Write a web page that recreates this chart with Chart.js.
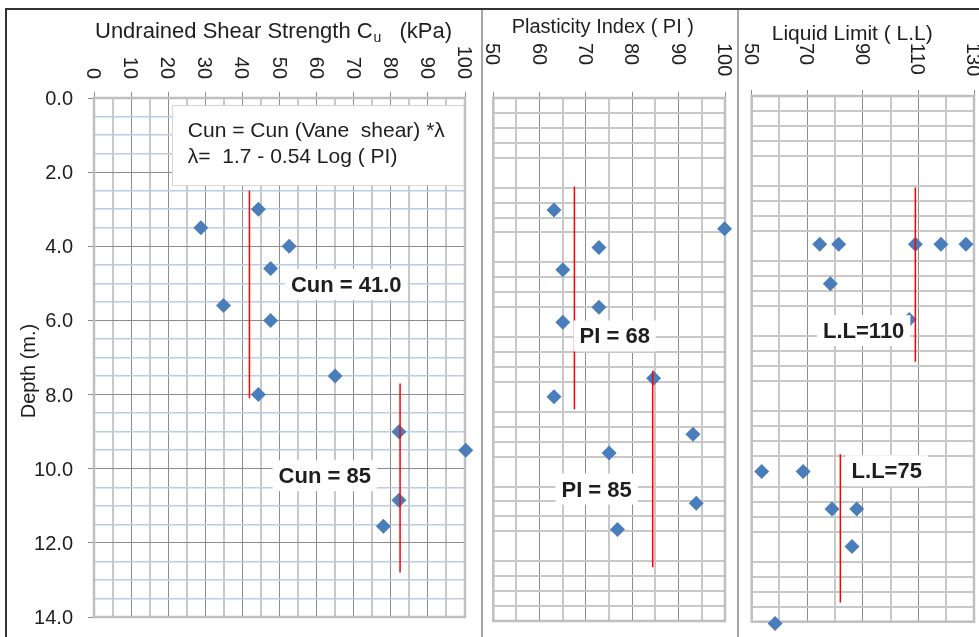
<!DOCTYPE html>
<html>
<head>
<meta charset="utf-8">
<title>Cu, PI and LL profiles</title>
<script src="https://cdn.jsdelivr.net/npm/chart.js@4.4.1/dist/chart.umd.min.js"></script>
<style>
  body { margin: 0; background: #fff; }
  #sheet { position: relative; width: 979px; height: 637px; overflow: hidden; background: #fff; }
  #sheet canvas { position: absolute; top: 0; }
  .rule { position: absolute; }
</style>
</head>
<body>
<div id="sheet">
  <canvas id="cuChart" width="481" height="637" style="left:0"></canvas>
  <canvas id="piChart" width="254" height="637" style="left:483px"></canvas>
  <canvas id="llChart" width="240" height="637" style="left:739px"></canvas>
  <div class="rule" style="left:5px;top:8px;width:974px;border-top:2px solid #333"></div>
  <div class="rule" style="left:5px;top:8px;height:629px;border-left:2px solid #333"></div>
  <div class="rule" style="left:481px;top:10px;height:627px;border-left:2px solid #a6a6a6"></div>
  <div class="rule" style="left:737px;top:10px;height:627px;border-left:2px solid #a6a6a6"></div>
</div>
<script>
/* ---------- data ---------- */
const sampleDepths = [3.0, 3.5, 4.0, 4.6, 5.6, 6.0, 7.5, 8.0, 9.0, 9.5, 10.85, 11.55];
const cuValues = [44.3, 28.8, 52.6, 47.6, 34.9, 47.6, 65.0, 44.3, 82.2, 100.2, 82.2, 78.0];
const piValues = [63.1, 99.9, 72.8, 65.0, 72.8, 65.0, 84.6, 63.1, 93.1, 75.0, 93.8, 76.8];

const llDepths = [3.95, 3.95, 3.95, 3.95, 3.95, 5.0, 5.95, 10.0, 10.0, 11.0, 11.0, 12.0, 14.05];
const llValues = [74.5, 81.3, 108.9, 118.1, 127.1, 78.3, 106.7, 53.6, 68.5, 78.9, 87.8, 86.1, 58.4];

// red design lines: value, from depth, to depth
const cuDesign = [41.9, 82.5];
const cuDesignTop = [2.5, 7.7];
const cuDesignBottom = [8.1, 12.8];
const piDesign = [67.5, 84.4];
const piDesignTop = [2.37, 7.3];
const piDesignBottom = [8.33, 12.56];
const llDesign = [108.9, 81.9];
const llDesignTop = [2.44, 9.54];
const llDesignBottom = [7.08, 13.49];

const cuNotes = ["Cun = 41.0", "Cun = 85"];
const piNotes = ["PI = 68", "PI = 85"];
const llNotes = ["L.L=110", "L.L=75"];

const cuTicks = [0, 10, 20, 30, 40, 50, 60, 70, 80, 90, 100];
const piTicks = [50, 60, 70, 80, 90, 100];
const llTicks = [50, 70, 90, 110, 130];
const depthTicks = [0, 2, 4, 6, 8, 10, 12, 14];

/* ---------- styling ---------- */
const FONT = '"Liberation Sans", Arial, sans-serif';
const INK = "#1e1e1e";
const BLUE = "#4a7ebb";
const RED = "#ff0000";
const DARK = "#8c8c8c";
const LIGHT = "#c8c8c8";
const PALEBLUE = "#b9cde5";
const NONE = "rgba(0,0,0,0)";

Chart.defaults.font.family = FONT;

const steps = (from, to, step) => {
    const out = [];
    for (let i = 0; from + i * step <= to + 1e-9; i++)
        out.push({ value: +(from + i * step).toFixed(2) });
    return out;
};
const isEvery = (v, base, step) => Math.abs((v - base) / step - Math.round((v - base) / step)) < 1e-6;

/* draws frame, labels, titles and rotated tick text */
const decor = {
    id: "decor",
    beforeDatasetsDraw(chart, args, o) {
        const { ctx, chartArea: a } = chart;
        const xs = chart.scales.x, ys = chart.scales.y;
        ctx.save();
        if (o.box) {
            const b = o.box;
            const l = xs.getPixelForValue(b.x0), r = xs.getPixelForValue(b.x1);
            const t = ys.getPixelForValue(b.y0), btm = ys.getPixelForValue(b.y1);
            ctx.fillStyle = "#fff";
            ctx.fillRect(l, t, r - l, btm - t);
            ctx.strokeStyle = "#d4d4d4";
            ctx.lineWidth = 1;
            ctx.strokeRect(l + 0.5, t + 0.5, r - l, btm - t);
            ctx.fillStyle = INK;
            ctx.font = `21px ${FONT}`;
            ctx.textAlign = "left";
            b.lines.forEach((s, i) =>
                ctx.fillText(s, xs.getPixelForValue(b.tx), ys.getPixelForValue(b.ty[i]))
            );
        }
        ctx.strokeStyle = "#bfbfbf";
        ctx.lineWidth = 2.5;
        ctx.strokeRect(a.left, a.top, a.width, a.height);
        ctx.restore();
    },
    afterDatasetsDraw(chart, args, o) {
        const { ctx } = chart;
        const xs = chart.scales.x, ys = chart.scales.y;
        ctx.save();
        ctx.font = `bold 22px ${FONT}`;
        ctx.textAlign = "center";
        (o.notes || []).forEach((n) => {
            const w = ctx.measureText(n.text).width;
            const cx = xs.getPixelForValue(n.x), by = ys.getPixelForValue(n.y);
            ctx.fillStyle = "#fff";
            ctx.fillRect(cx - w / 2 - 6, by - 23, w + 12, 31);
            ctx.fillStyle = INK;
            ctx.fillText(n.text, cx, by);
        });
        ctx.restore();
    },
    afterDraw(chart, args, o) {
        const { ctx } = chart;
        const xs = chart.scales.x, ys = chart.scales.y;
        ctx.save();
        ctx.fillStyle = INK;
        ctx.textBaseline = "alphabetic";

        // panel title
        const t = o.title;
        ctx.textAlign = "left";
        ctx.font = `${t.size}px ${FONT}`;
        ctx.fillText(t.text, t.x, t.y);
        if (t.sub) {
            let cx = t.x + ctx.measureText(t.text).width + 1;
            ctx.font = `${Math.round(t.size * 0.62)}px ${FONT}`;
            ctx.fillText(t.sub, cx, t.y + 4);
            cx += ctx.measureText(t.sub).width + t.gap;
            ctx.font = `${t.size}px ${FONT}`;
            ctx.fillText(t.after, cx, t.y);
        }

        // x tick labels, turned 90deg clockwise
        ctx.font = `20px ${FONT}`;
        ctx.textAlign = o.xLabels.align;
        o.xLabels.values.forEach((v) => {
            ctx.save();
            ctx.translate(xs.getPixelForValue(v) - 7, o.xLabels.y);
            ctx.rotate(Math.PI / 2);
            ctx.fillText(String(v), 0, 0);
            ctx.restore();
        });

        // depth labels
        if (o.yLabels) {
            ctx.textAlign = "right";
            o.yLabels.values.forEach((v) =>
                ctx.fillText(v.toFixed(1), o.yLabels.x, ys.getPixelForValue(v) + 7)
            );
        }
        if (o.yTitle) {
            ctx.save();
            ctx.translate(o.yTitle.x, o.yTitle.y);
            ctx.rotate(-Math.PI / 2);
            ctx.textAlign = "center";
            ctx.textBaseline = "middle";
            ctx.fillText(o.yTitle.text, 0, 0);
            ctx.restore();
        }
        ctx.restore();
    },
};

function designLines(values, tops, bottoms) {
    return values.map((v, i) => ({
        data: [{ x: v, y: tops[i] }, { x: v, y: bottoms[i] }],
        showLine: true,
        borderColor: RED,
        borderWidth: 1.5,
        pointRadius: 0,
        clip: false,
    }));
}

function profile(id, cfg) {
    return new Chart(document.getElementById(id), {
        type: "scatter",
        data: {
            datasets: [
                ...cfg.lines,
                {
                    data: cfg.points,
                    pointStyle: "rectRot",
                    pointRadius: 7.5,
                    pointHoverRadius: 7.5,
                    backgroundColor: BLUE,
                    borderWidth: 0,
                    clip: false,
                },
            ],
        },
        options: {
            responsive: false,
            animation: false,
            events: [],
            layout: { padding: cfg.padding, autoPadding: false },
            plugins: {
                legend: { display: false },
                tooltip: { enabled: false },
                decor: cfg.decor,
            },
            scales: {
                x: {
                    type: "linear",
                    position: "top",
                    min: cfg.xMin,
                    max: cfg.xMax,
                    afterBuildTicks: (s) => { s.ticks = steps(cfg.xMin, cfg.xMax, cfg.xStep); },
                    afterFit: (s) => { s.height = 6; },
                    ticks: { display: false },
                    border: { display: false },
                    grid: {
                        color: (c) => (cfg.xMajor(c.tick.value) ? DARK : LIGHT),
                        lineWidth: (c) => (cfg.xMajor(c.tick.value) ? 1 : 2),
                        tickColor: (c) => (cfg.xMajor(c.tick.value) ? DARK : NONE),
                        tickWidth: 1,
                        tickLength: 6,
                    },
                },
                y: {
                    type: "linear",
                    reverse: true,
                    min: 0,
                    max: 14,
                    afterBuildTicks: (s) => { s.ticks = steps(0, 14, cfg.yStep); },
                    afterFit: (s) => { s.width = cfg.yTicks ? 6 : 0; },
                    ticks: { display: false },
                    border: { display: false },
                    grid: cfg.yGrid,
                },
            },
        },
        plugins: [decor],
    });
}

/* ---------- Cu panel ---------- */
profile("cuChart", {
    points: sampleDepths.map((d, i) => ({ x: cuValues[i], y: d })),
    lines: designLines(cuDesign, cuDesignTop, cuDesignBottom),
    padding: { left: 88, right: 16, top: 92, bottom: 20 },
    xMin: 0, xMax: 100, xStep: 5,
    xMajor: (v) => isEvery(v, 0, 10),
    yStep: 0.5,
    yTicks: true,
    yGrid: {
        color: (c) => (isEvery(c.tick.value, 0, 2) ? DARK : PALEBLUE),
        lineWidth: (c) => (isEvery(c.tick.value, 0, 2) ? 1 : 1.5),
        tickColor: (c) => (isEvery(c.tick.value, 0, 2) ? DARK : NONE),
        tickWidth: 1,
        tickLength: 6,
    },
    decor: {
        title: { text: "Undrained Shear Strength C", sub: "u", after: "(kPa)", x: 95, y: 38, size: 22, gap: 18 },
        xLabels: { values: cuTicks, y: 79, align: "right" },
        yLabels: { values: depthTicks, x: 73 },
        yTitle: { text: "Depth (m.)", x: 29, y: 371 },
        box: {
            x0: 21, x1: 99.7, y0: 0.19, y1: 2.35, tx: 25.3, ty: [1.04, 1.75],
            lines: ["Cun = Cun (Vane  shear) *λ", "λ=  1.7 - 0.54 Log ( PI)"],
        },
        notes: [
            { text: cuNotes[0], x: 68.0, y: 5.23 },
            { text: cuNotes[1], x: 62.2, y: 10.39 },
        ],
    },
});

/* ---------- PI and LL panels share the same grid ---------- */
const soilGrid = {
    color: (c) => (isEvery(c.tick.value, 0, 2) ? NONE : LIGHT),
    lineWidth: 2,
    drawTicks: false,
};

profile("piChart", {
    points: sampleDepths.map((d, i) => ({ x: piValues[i], y: d })),
    lines: designLines(piDesign, piDesignTop, piDesignBottom),
    padding: { left: 10.3, right: 12, top: 92, bottom: 16 },
    xMin: 50, xMax: 100, xStep: 5,
    xMajor: (v) => isEvery(v, 50, 10),
    yStep: 0.4,
    yTicks: false,
    yGrid: soilGrid,
    decor: {
        title: { text: "Plasticity Index ( PI )", x: 28.7, y: 33.3, size: 20 },
        xLabels: { values: piTicks, y: 43, align: "left" },
        notes: [
            { text: piNotes[0], x: 76.2, y: 6.57 },
            { text: piNotes[1], x: 72.3, y: 10.67 },
        ],
    },
});

profile("llChart", {
    points: llDepths.map((d, i) => ({ x: llValues[i], y: d })),
    lines: designLines(llDesign, llDesignTop, llDesignBottom),
    padding: { left: 12.7, right: 5, top: 90, bottom: 15.3 },
    xMin: 50, xMax: 130, xStep: 10,
    xMajor: (v) => isEvery(v, 50, 20),
    yStep: 0.4,
    yTicks: false,
    yGrid: soilGrid,
    decor: {
        title: { text: "Liquid Limit ( L.L)", x: 32.7, y: 40, size: 21 },
        xLabels: { values: llTicks, y: 43, align: "left" },
        notes: [
            { text: llNotes[0], x: 90.3, y: 6.45 },
            { text: llNotes[1], x: 98.6, y: 10.18 },
        ],
    },
});
</script>
</body>
</html>
